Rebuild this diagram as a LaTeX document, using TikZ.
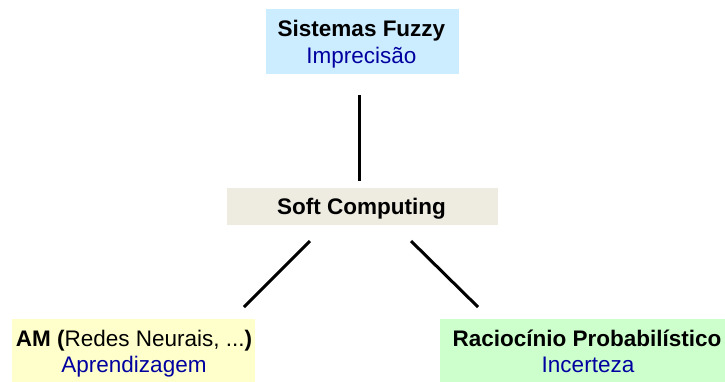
\documentclass[tikz,border=0pt]{standalone}
\usepackage{fontspec}
\setmainfont{Liberation Sans}
\usetikzlibrary{calc}
\definecolor{fuzzyfill}{RGB}{204,236,255}
\definecolor{softfill}{RGB}{238,236,225}
\definecolor{amfill}{RGB}{255,255,204}
\definecolor{probfill}{RGB}{204,255,204}
\definecolor{subtext}{RGB}{0,0,160}
\tikzset{
  box/.style={draw=none, inner sep=0pt, outer sep=0pt},
  txt/.style={inner sep=0pt, outer sep=0pt, anchor=base, font=\fontsize{22.5}{26}\selectfont},
  head/.style={txt, font=\fontsize{22.5}{26}\selectfont\bfseries},
  sub/.style={txt, text=subtext},
  link/.style={line width=3pt, line cap=butt}
}
\begin{document}
\begin{tikzpicture}[x=1pt, y=-1pt]
\useasboundingbox (0,0) rectangle (725,381);

% coloured boxes
\node[box, fill=fuzzyfill, minimum width=193pt, minimum height=65pt] (fuzzy) at (362.5,41.5) {};
\node[box, fill=softfill, minimum width=271pt, minimum height=37pt] (soft) at (362.5,206.5) {};
\node[box, fill=amfill, minimum width=243pt, minimum height=64pt] (am) at (133.5,351) {};
\node[box, fill=probfill, minimum width=294pt, minimum height=64pt] (prob) at (587,351) {};

% labels
\node[head] (fuzzyA) at (361.5,36.5) {Sistemas Fuzzy};
\node[sub]  (fuzzyB) at (361.5,63) {Imprecisão};
\node[head] (softA)  at (361.5,214) {Soft Computing};
\node[txt]  (amA)    at (134,346) {\textbf{AM (}Redes Neurais, ...\textbf{)}};
\node[sub]  (amB)    at (134,372) {Aprendizagem};
\node[head] (probA)  at (587,346) {Raciocínio Probabilístico};
\node[sub]  (probB)  at (588,372) {Incerteza};

% connectors
\draw[link] ($(fuzzy.south)+(-3.5,21)$) -- ($(soft.north)+(-3.5,-7)$);
\draw[link] ($(soft.south)+(-52.5,16)$) -- ($(am.north)+(110.5,-12)$);
\draw[link] ($(soft.south)+(48.5,16)$) -- ($(prob.north)+(-109,-12)$);
\end{tikzpicture}
\end{document}
